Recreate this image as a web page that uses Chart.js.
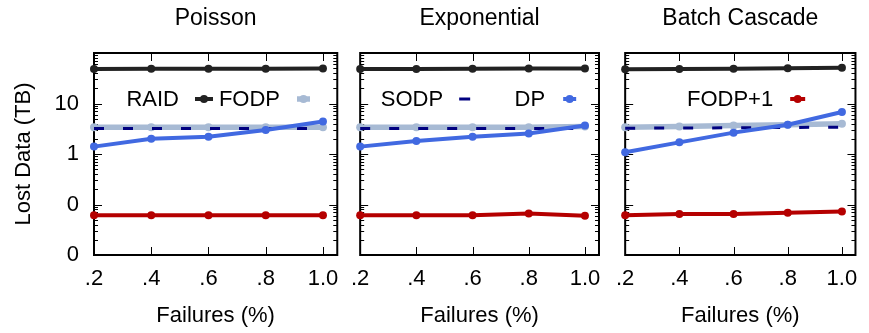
<!DOCTYPE html>
<html>
<head>
<meta charset="utf-8">
<title>Lost Data vs Failures</title>
<script src="https://cdn.jsdelivr.net/npm/chart.js@4.4.1/dist/chart.umd.min.js"></script>
<style>
  html, body { margin: 0; padding: 0; background: #ffffff; }
  #wrap { position: relative; width: 869px; height: 333px; overflow: hidden; }
  canvas { position: absolute; top: 0; }
</style>
</head>
<body>
<div id="wrap">
  <canvas id="c1" width="350" height="333" style="left:0px"></canvas>
  <canvas id="c2" width="272" height="333" style="left:340px"></canvas>
  <canvas id="c3" width="264" height="333" style="left:605px"></canvas>
</div>
<script>
'use strict';

/* ── Data ─────────────────────────────────── */
const X_VALUES      = [0.2, 0.4, 0.6, 0.8, 1.0];
const X_TICK_LABELS = ['.2', '.4', '.6', '.8', '1.0'];
const Y_TICKS       = [0.01, 0.1, 1, 10];
const Y_TICK_LABELS = ['0', '0', '1', '10'];
const PANEL_TITLES  = ['Poisson', 'Exponential', 'Batch Cascade'];
const SERIES_NAMES  = ['RAID', 'FODP', 'SODP', 'DP', 'FODP+1'];

// Lost data (TB) per failure rate
const POISSON_RAID   = [48, 48.5, 48.5, 48.5, 49.5];
const POISSON_FODP   = [3.4, 3.4, 3.4, 3.4, 3.4];
const POISSON_SODP   = [3.2, 3.2, 3.2, 3.2, 3.2];
const POISSON_DP     = [1.4, 2.0, 2.2, 3.0, 4.4];
const POISSON_FODP1  = [0.061, 0.061, 0.061, 0.061, 0.061];

const EXP_RAID       = [48, 48, 48.5, 49.5, 49.5];
const EXP_FODP       = [3.4, 3.4, 3.4, 3.4, 3.5];
const EXP_SODP       = [3.2, 3.2, 3.2, 3.2, 3.2];
const EXP_DP         = [1.4, 1.8, 2.2, 2.55, 3.65];
const EXP_FODP1      = [0.061, 0.061, 0.061, 0.066, 0.060];

const BATCH_RAID     = [47.5, 48, 48.5, 50, 51];
const BATCH_FODP     = [3.4, 3.5, 3.65, 3.8, 3.95];
const BATCH_SODP     = [3.25, 3.27, 3.3, 3.35, 3.4];
const BATCH_DP       = [1.08, 1.7, 2.65, 3.8, 6.8];
const BATCH_FODP1    = [0.061, 0.065, 0.065, 0.069, 0.073];

const PANEL_DATA = [
  [POISSON_RAID, POISSON_FODP, POISSON_SODP, POISSON_DP, POISSON_FODP1],
  [EXP_RAID, EXP_FODP, EXP_SODP, EXP_DP, EXP_FODP1],
  [BATCH_RAID, BATCH_FODP, BATCH_SODP, BATCH_DP, BATCH_FODP1],
];

/* ── Styles ───────────────────────────────── */
const FONT = "'Liberation Sans', Arial, sans-serif";
Chart.defaults.font.family = FONT;
Chart.defaults.color = '#000000';

const SERIES_STYLE = [
  { color: '#222222', width: 4,   radius: 4, dash: [],       order: 5 },
  { color: '#a7bad4', width: 5.5, radius: 4, dash: [],       order: 4 },
  { color: '#000080', width: 3,   radius: 0, dash: [10, 19], order: 3 },
  { color: '#4169e1', width: 4,   radius: 4, dash: [],       order: 2 },
  { color: '#b50000', width: 4,   radius: 4, dash: [],       order: 1 },
];

// legend placement, relative to plot left / top
const LEGEND_ITEMS = [
  [{ s: 0, tx: 85, x1: 101, x2: 119 }, { s: 1, tx: 186, x1: 203, x2: 216 }],
  [{ s: 2, tx: 83, x1: 99,  x2: 110 }, { s: 3, tx: 185, x1: 203, x2: 216 }],
  [{ s: 4, tx: 148, x1: 165, x2: 180 }],
];
const LEGEND_DY = 46;

const PANEL_LAYOUT = [
  { yWidth: 94, padRight: 11, showY: true },
  { yWidth: 17, padRight: 11, showY: false },
  { yWidth: 14, padRight: 6,  showY: false },
];

/* ── Frame, inward ticks, legend ──────────── */
const framePlugin = {
  id: 'frame',
  beforeDatasetsDraw(chart) {
    const { ctx, chartArea: a, scales: { x, y } } = chart;
    ctx.save();
    ctx.strokeStyle = '#000000';
    ctx.lineWidth = 1;
    ctx.beginPath();
    X_VALUES.forEach(v => {
      const px = Math.round(x.getPixelForValue(v)) + 0.5;
      ctx.moveTo(px, a.bottom); ctx.lineTo(px, a.bottom - 8);
      ctx.moveTo(px, a.top);    ctx.lineTo(px, a.top + 8);
    });
    for (let d = -2; d <= 2; d++) {
      for (let k = 1; k <= 9; k++) {
        const v = k * Math.pow(10, d);
        if (v < y.min || v > y.max) continue;
        const py = Math.round(y.getPixelForValue(v)) + 0.5;
        const len = k === 1 ? 8 : 4;
        ctx.moveTo(a.left, py);  ctx.lineTo(a.left + len, py);
        ctx.moveTo(a.right, py); ctx.lineTo(a.right - len, py);
      }
    }
    ctx.stroke();
    ctx.lineWidth = 2;
    ctx.strokeRect(a.left, a.top, a.right - a.left, a.bottom - a.top);
    ctx.restore();
  },
  afterDraw(chart, args, opts) {
    const { ctx, chartArea: a } = chart;
    const y0 = a.top + LEGEND_DY;
    ctx.save();
    ctx.font = '22px ' + FONT;
    ctx.textAlign = 'right';
    ctx.textBaseline = 'middle';
    (opts.items || []).forEach(it => {
      const st = SERIES_STYLE[it.s];
      ctx.fillStyle = '#000000';
      ctx.fillText(SERIES_NAMES[it.s], a.left + it.tx, y0 + 1);
      ctx.strokeStyle = st.color;
      ctx.lineWidth = st.width;
      ctx.setLineDash([]);
      ctx.beginPath();
      ctx.moveTo(a.left + it.x1, y0); ctx.lineTo(a.left + it.x2, y0);
      ctx.stroke();
      if (st.radius > 0) {
        ctx.fillStyle = st.color;
        ctx.beginPath();
        ctx.arc(a.left + (it.x1 + it.x2) / 2, y0, st.radius, 0, Math.PI * 2);
        ctx.fill();
      }
    });
    ctx.restore();
  },
};

/* ── Panels ───────────────────────────────── */
function initPanel(idx) {
  const canvas = document.getElementById('c' + (idx + 1));
  const lay = PANEL_LAYOUT[idx];

  const datasets = PANEL_DATA[idx].map((vals, s) => {
    const st = SERIES_STYLE[s];
    return {
      label           : SERIES_NAMES[s],
      data            : vals.map((v, i) => ({ x: X_VALUES[i], y: v })),
      borderColor     : st.color,
      backgroundColor : st.color,
      borderWidth     : st.width,
      borderDash      : st.dash,
      pointRadius     : st.radius,
      pointHoverRadius: st.radius,
      pointBorderWidth: 0,
      tension         : 0,
      clip            : false,
      order           : st.order,
    };
  });

  new Chart(canvas.getContext('2d'), {
    type: 'line',
    data: { datasets },
    options: {
      responsive : false,
      animation  : false,
      layout     : { padding: { left: 0, right: lay.padRight, top: 0, bottom: 0 } },
      plugins: {
        legend : { display: false },
        tooltip: { enabled: false },
        title  : {
          display : true,
          text    : PANEL_TITLES[idx],
          fullSize: false,
          color   : '#000000',
          font    : { size: 23, weight: 'normal' },
          padding : { top: 5, bottom: 20.4 },
        },
        frame: { items: LEGEND_ITEMS[idx] },
      },
      scales: {
        x: {
          type  : 'linear',
          min   : 0.2,
          max   : 1.05,
          grid  : { display: false, drawTicks: false },
          border: { display: false },
          afterBuildTicks: s => { s.ticks = X_VALUES.map(v => ({ value: v })); },
          afterFit: s => { s.height = 78; },
          ticks : {
            autoSkip   : false,
            maxRotation: 0,
            padding    : 11,
            color      : '#000000',
            font       : { size: 22 },
            callback   : v => X_TICK_LABELS[X_VALUES.indexOf(v)],
          },
          title: {
            display: true,
            text   : 'Failures (%)',
            color  : '#000000',
            font   : { size: 22 },
            padding: { top: 0, bottom: 4 },
          },
        },
        y: {
          type  : 'logarithmic',
          min   : 0.01,
          max   : 100,
          grid  : { display: false, drawTicks: false },
          border: { display: false },
          afterBuildTicks: s => { s.ticks = Y_TICKS.map(v => ({ value: v })); },
          afterFit: s => { s.width = lay.yWidth; },
          ticks : {
            display : lay.showY,
            padding : 15,
            color   : '#000000',
            font    : { size: 22 },
            callback: v => Y_TICK_LABELS[Y_TICKS.indexOf(v)],
          },
          title: {
            display: lay.showY,
            text   : 'Lost Data (TB)',
            color  : '#000000',
            font   : { size: 22 },
            padding: { top: 11, bottom: 0 },
          },
        },
      },
    },
    plugins: [framePlugin],
  });
}

document.addEventListener('DOMContentLoaded', () => {
  PANEL_TITLES.forEach((t, i) => initPanel(i));
});
</script>
</body>
</html>
